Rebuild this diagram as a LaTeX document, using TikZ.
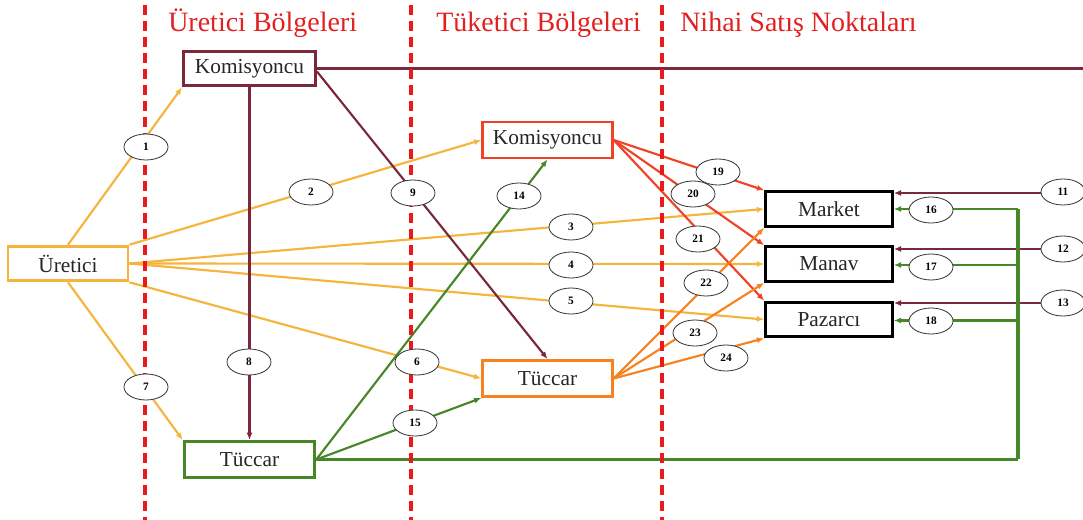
\documentclass[tikz,border=0pt]{standalone}
\usepackage{fontspec}
\setmainfont{Liberation Serif}
\usetikzlibrary{arrows.meta,shapes.geometric,calc}
\definecolor{cyel}{RGB}{245,180,60}
\definecolor{cmar}{RGB}{122,40,58}
\definecolor{cred}{RGB}{240,66,36}
\definecolor{corg}{RGB}{247,130,30}
\definecolor{cgrn}{RGB}{72,135,40}
\definecolor{cdash}{RGB}{235,25,25}
\definecolor{chead}{RGB}{226,32,32}
\begin{document}
\begin{tikzpicture}[x=0.75pt,y=-0.75pt,
  box/.style={draw, line width=2.2pt, fill=white, minimum height=26pt, inner sep=0pt,
    font=\fontsize{16}{18}\selectfont, text=black!85},
  lbl/.style={ellipse, draw=black!80, line width=0.6pt, fill=white, minimum width=33pt,
    minimum height=19.5pt, inner sep=0pt, font=\bfseries\fontsize{8.5}{9}\selectfont},
  con/.style={line width=1.6pt, -{Latex[length=5.5pt,width=4.5pt]}},
  sep/.style={draw=cdash, line width=2.3pt, dash pattern=on 7.5pt off 4.5pt},
  head/.style={text=chead, font=\fontsize{21}{24}\selectfont, inner sep=0pt, anchor=base west}]
\useasboundingbox[fill=white] (0,0) rectangle (1083,520);

% nodes (boxes)
\node[box, draw=cmar, minimum width=99pt] (kp) at (249.5,68.5) {Komisyoncu};
\node[box, draw=cred, minimum width=97pt, minimum height=27pt] (kc) at (547.5,140) {Komisyoncu};
\node[box, draw=cyel, minimum width=90pt] (ur) at (68,263.5) {Üretici};
\node[box, draw=cgrn, minimum width=98pt, minimum height=27pt] (tp) at (249.5,459.5) {Tüccar};
\node[box, draw=corg, minimum width=97pt, minimum height=27pt] (tc) at (547.5,378.5) {Tüccar};
\node[box, draw=black, minimum width=95pt] (mk) at (829,209) {Market};
\node[box, draw=black, minimum width=95pt] (mn) at (829,264) {Manav};
\node[box, draw=black, minimum width=95pt] (pz) at (829,319.5) {Pazarcı};

% free ends
\coordinate (e10) at (1083,68.5);
\coordinate (e11) at (1083,193);
\coordinate (e12) at (1083,249);
\coordinate (e13) at (1083,303);
\coordinate (gbot) at (1018,459.5);
\coordinate (g16) at (1018,209);
\coordinate (g17) at (1018,265);
\coordinate (g18) at (1018,320.5);

% connectors
\draw[con, cyel] (ur.north) -- (kp.south west);
\draw[con, cyel] (ur.north east) -- (kc.west);
\draw[con, cyel] (ur.east) -- (mk.west);
\draw[con, cyel] (ur.east) -- (mn.west);
\draw[con, cyel] (ur.east) -- (pz.west);
\draw[con, cyel] (ur.south east) -- (tc.west);
\draw[con, cyel] (ur.south) -- (tp.north west);

\draw[con, cmar] (kp.south) -- (tp.north);
\draw[con, cmar] ($(kp.east)+(0,3)$) -- (tc.north);
\draw[cmar, line width=2.2pt] (kp.east) -- (e10);
\draw[con, cmar] (e11) -- (mk.east |- e11);
\draw[con, cmar] (e12) -- (mn.east |- e12);
\draw[con, cmar] (e13) -- (pz.east |- e13);

\draw[con, cgrn] (tp.east) -- (kc.south);
\draw[con, cgrn] (tp.east) -- (tc.south west);
\draw[cgrn, line width=2.4pt] (tp.east) -- (gbot);
\draw[cgrn, line width=3pt] (gbot) -- (g16);
\draw[con, cgrn] (g16) -- (mk.east |- g16);
\draw[con, cgrn] (g17) -- (mn.east |- g17);
\draw[con, cgrn] (g18) -- (pz.east |- g18);

\draw[con, cred] (kc.east) -- (mk.north west);
\draw[con, cred] (kc.east) -- (mn.north west);
\draw[con, cred] (kc.east) -- (pz.north west);

\draw[con, corg] (tc.east) -- (mk.south west);
\draw[con, corg] (tc.east) -- (mn.south west);
\draw[con, corg] (tc.east) -- (pz.south west);

% separators
\draw[sep] (145,5) -- (145,520);
\draw[sep] (411,5) -- (411,520);
\draw[sep] (662,5) -- (662,520);

% headers
\node[head] (h1) at (168,32) {Üretici Bölgeleri};
\node[head] (h2) at (436,32) {Tüketici Bölgeleri};
\node[head] (h3) at (680,32) {Nihai Satış Noktaları};

% labels
\node[lbl] (l1) at (146,147) {1};
\node[lbl] (l2) at (311,192) {2};
\node[lbl] (l3) at (571,227) {3};
\node[lbl] (l4) at (571,265) {4};
\node[lbl] (l5) at (571,301) {5};
\node[lbl] (l6) at (417,362) {6};
\node[lbl] (l7) at (146,387) {7};
\node[lbl] (l8) at (249,362) {8};
\node[lbl] (l9) at (413,193) {9};
\node[lbl] (l11) at (1063,192) {11};
\node[lbl] (l12) at (1063,249) {12};
\node[lbl] (l13) at (1063,303) {13};
\node[lbl] (l14) at (519,196) {14};
\node[lbl] (l15) at (415,423) {15};
\node[lbl] (l16) at (931,210) {16};
\node[lbl] (l17) at (931,267) {17};
\node[lbl] (l18) at (931,321) {18};
\node[lbl] (l19) at (718,172) {19};
\node[lbl] (l20) at (693,194) {20};
\node[lbl] (l21) at (698,239) {21};
\node[lbl] (l22) at (706,283) {22};
\node[lbl] (l23) at (695,333) {23};
\node[lbl] (l24) at (726,358) {24};
\end{tikzpicture}
\end{document}
